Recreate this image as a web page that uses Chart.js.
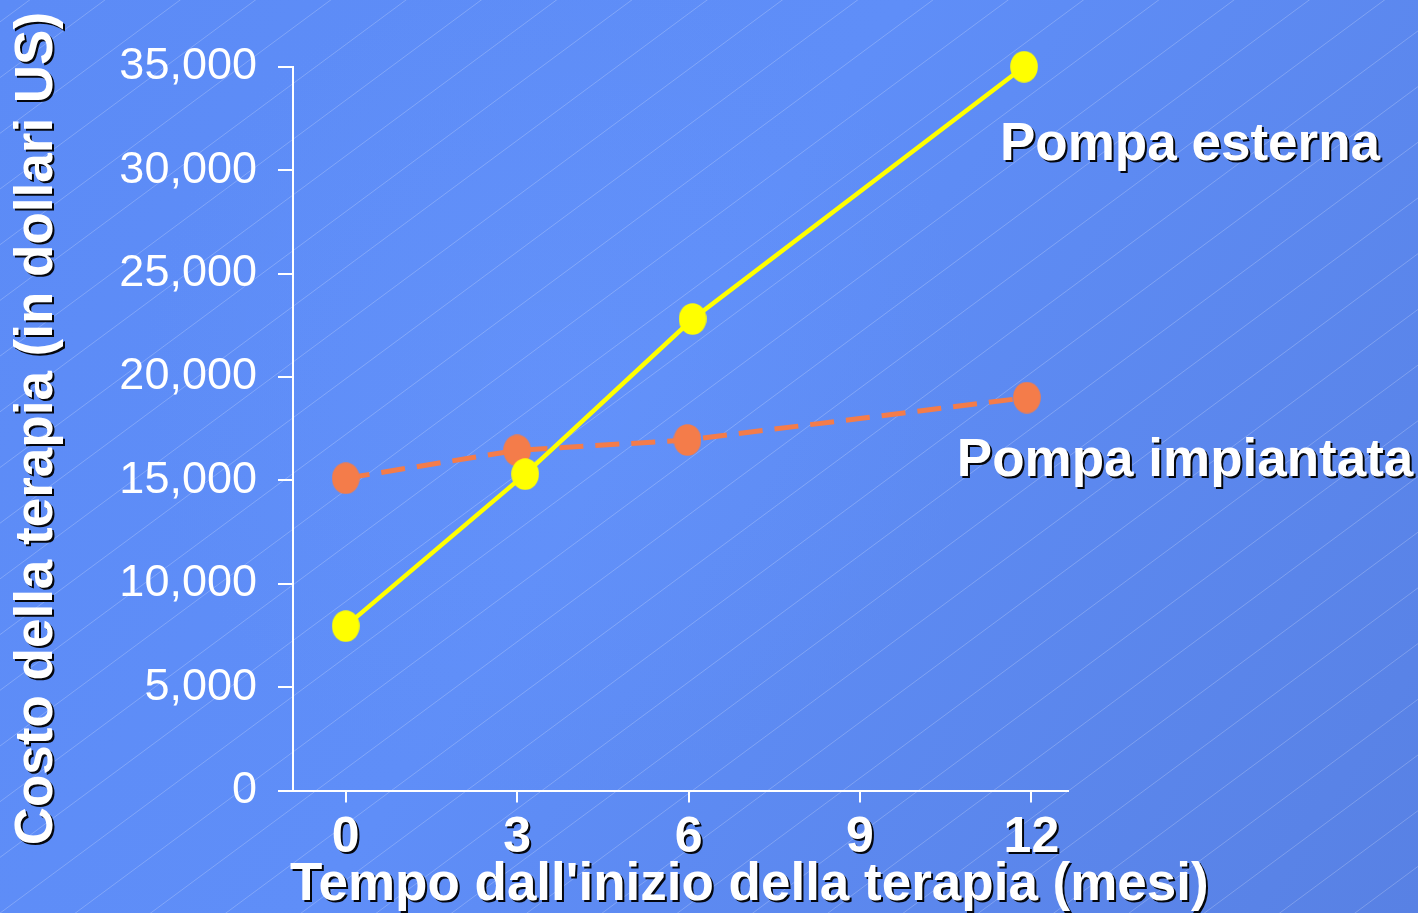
<!DOCTYPE html>
<html lang="it">
<head>
<meta charset="utf-8">
<title>Costo della terapia: pompa esterna e pompa impiantata</title>
<script src="https://cdn.jsdelivr.net/npm/chart.js@4.4.1/dist/chart.umd.min.js"></script>
<style>
  html, body { margin: 0; padding: 0; background: #5b88f0; }
  #wrap { width: 1418px; height: 913px; }
</style>
</head>
<body>
<div id="wrap"><canvas id="costChart" width="1418" height="913"></canvas></div>
<script>
// Months since start of therapy (x-axis tick labels)
const monthTicks = [0, 3, 6, 9, 12];
// Cost axis ticks (US dollars)
const costTicks = [0, 5000, 10000, 15000, 20000, 25000, 30000, 35000];

// External pump
const esternaMonths = [0, 3.14, 6.07, 11.87];
const esternaCost   = [7950, 15300, 22800, 35000];

// Implanted pump
const impiantataMonths = [0, 3.0, 5.98, 11.92];
const impiantataCost   = [15100, 16450, 16950, 19000];

const seriesNames = ['Pompa esterna', 'Pompa impiantata'];
const xTitle = "Tempo dall'inizio della terapia (mesi)";
const yTitle = 'Costo della terapia (in dollari US)';

const FONT = "'Liberation Sans', Arial, Helvetica, sans-serif";
Chart.defaults.font.family = FONT;

function toPoints(xs, ys) {
  return xs.map((x, i) => ({ x: x, y: ys[i] }));
}

// Slightly oval marker, as on the original slide
function ovalMarker(color) {
  const c = document.createElement('canvas');
  c.width = 28; c.height = 32;
  const g = c.getContext('2d');
  g.fillStyle = color;
  g.beginPath();
  g.ellipse(14, 16, 13.8, 15.8, 0, 0, Math.PI * 2);
  g.fill();
  return c;
}

function setShadow(ctx) {
  ctx.shadowColor = 'rgba(0,0,0,0.95)';
  ctx.shadowOffsetX = 2;
  ctx.shadowOffsetY = 2;
  ctx.shadowBlur = 0;
}

// Slide background: blue gradient with fine diagonal hatching
const slideBackground = {
  id: 'slideBackground',
  beforeDraw(chart) {
    const { ctx, width, height } = chart;
    ctx.save();
    const lg = ctx.createLinearGradient(0, 0, width, height);
    lg.addColorStop(0, '#5c8bf6');
    lg.addColorStop(0.45, '#5f8ef8');
    lg.addColorStop(1, '#5881e4');
    ctx.fillStyle = lg;
    ctx.fillRect(0, 0, width, height);
    const rg = ctx.createRadialGradient(560, 380, 20, 560, 380, 420);
    rg.addColorStop(0, 'rgba(110,155,255,0.25)');
    rg.addColorStop(1, 'rgba(110,155,255,0)');
    ctx.fillStyle = rg;
    ctx.fillRect(0, 0, width, height);

    ctx.strokeStyle = 'rgba(255,255,255,0.22)';
    ctx.lineWidth = 1;
    const slope = 0.74, step = 55.7;
    ctx.beginPath();
    for (let c = 21.9 - step * 3; c < height + slope * width + step; c += step) {
      ctx.moveTo(0, c);
      ctx.lineTo(width, c - slope * width);
    }
    ctx.stroke();
    ctx.restore();
  }
};

// Drop shadow on the x tick labels and on the y-axis title
const textShadow = {
  id: 'textShadow',
  beforeDraw(chart) {
    const wrap = (scale, name) => {
      if (!scale || scale['_shadow_' + name]) return;
      const orig = scale[name];
      scale[name] = function (...args) {
        const ctx = this.ctx;
        ctx.save();
        setShadow(ctx);
        orig.apply(this, args);
        ctx.restore();
      };
      scale['_shadow_' + name] = true;
    };
    wrap(chart.scales.x, 'drawLabels');
    wrap(chart.scales.y, 'drawTitle');
  }
};

// Series names next to the last point of each line, and the x-axis title
const seriesLabels = {
  id: 'seriesLabels',
  afterDraw(chart, args, opts) {
    const { ctx } = chart;
    ctx.save();
    setShadow(ctx);
    ctx.fillStyle = '#ffffff';
    ctx.textBaseline = 'alphabetic';
    ctx.textAlign = 'left';
    ctx.font = 'bold 53px ' + FONT;
    chart.data.datasets.forEach((ds, i) => {
      const meta = chart.getDatasetMeta(i);
      const last = meta.data[meta.data.length - 1];
      const off = opts.offsets[i];
      ctx.fillText(ds.label, last.x + off[0], last.y + off[1]);
    });
    const xs = chart.scales.x;
    ctx.fillText(xTitle, xs.left + opts.xTitleShift, chart.height - opts.xTitleBottom);
    ctx.restore();
  }
};

const ctx = document.getElementById('costChart').getContext('2d');

new Chart(ctx, {
  type: 'line',
  data: {
    datasets: [
      {
        label: seriesNames[0],
        data: toPoints(esternaMonths, esternaCost),
        borderColor: '#ffff00',
        backgroundColor: '#ffff00',
        borderWidth: 4.5,
        pointStyle: ovalMarker('#ffff00'),
        pointRadius: 15,
        pointHoverRadius: 15,
        tension: 0,
        clip: false
      },
      {
        label: seriesNames[1],
        data: toPoints(impiantataMonths, impiantataCost),
        borderColor: '#f47c4a',
        backgroundColor: '#f47c4a',
        borderWidth: 5,
        borderDash: [24, 12],
        pointStyle: ovalMarker('#f47c4a'),
        pointRadius: 15,
        pointHoverRadius: 15,
        tension: 0,
        clip: false
      }
    ]
  },
  options: {
    responsive: false,
    animation: false,
    events: [],
    layout: { padding: { top: 66.7, right: 350, bottom: 0, left: 0 } },
    plugins: {
      legend: { display: false },
      tooltip: { enabled: false },
      seriesLabels: { offsets: [[-24, 93.5], [-70, 78.5]], xTitleShift: -3, xTitleBottom: 13.5 }
    },
    scales: {
      x: {
        type: 'linear',
        min: -0.923,
        max: 12.64,
        afterBuildTicks(scale) { scale.ticks = monthTicks.map(v => ({ value: v })); },
        afterFit(scale) { scale.height = 122.5; },
        border: { display: true, color: '#ffffff', width: 2 },
        grid: { drawOnChartArea: false, drawTicks: true, tickLength: 12, color: '#ffffff', lineWidth: 2 },
        ticks: {
          color: '#ffffff',
          padding: 6,
          maxRotation: 0,
          autoSkip: false,
          font: { size: 50, weight: 'bold', lineHeight: 1.2 },
          callback: v => String(v)
        }
      },
      y: {
        type: 'linear',
        min: 0,
        max: 35000,
        afterBuildTicks(scale) { scale.ticks = costTicks.map(v => ({ value: v })); },
        afterFit(scale) { scale.width = 293; },
        border: { display: true, color: '#ffffff', width: 2 },
        grid: { drawOnChartArea: false, drawTicks: true, tickLength: 15, color: '#ffffff', lineWidth: 2 },
        ticks: {
          color: '#ffffff',
          padding: 21,
          font: { size: 45, weight: 'normal', lineHeight: 1.2 },
          callback: v => Number(v).toLocaleString('en-US')
        },
        title: {
          display: true,
          text: yTitle,
          color: '#ffffff',
          padding: { top: 6, bottom: 0 },
          font: { size: 53, weight: 'bold', lineHeight: 1.2 }
        }
      }
    }
  },
  plugins: [slideBackground, textShadow, seriesLabels]
});
</script>
</body>
</html>
